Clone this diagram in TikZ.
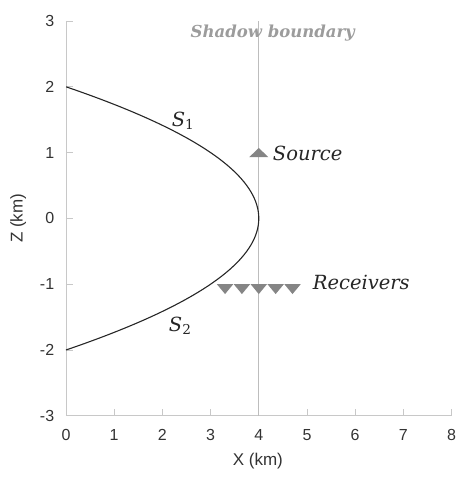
\documentclass[tikz,border=0pt]{standalone}
\usepackage{fontspec}
\setmainfont{Liberation Sans}
\newfontfamily\labelfont{DejaVu Serif}
\usetikzlibrary{positioning}
\definecolor{axisgray}{HTML}{C8C8C8}
\definecolor{boundgray}{HTML}{BDBDBD}
\definecolor{markgray}{HTML}{858585}
\definecolor{titlegray}{HTML}{9C9C9C}

\begin{document}
\begin{tikzpicture}[x=48.2pt, y=65.8pt,
  axis/.style={axisgray, line width=0.9pt},
  tick/.style={axisgray, line width=0.9pt},
  ticklabel/.style={font=\fontsize{16}{16}\selectfont, text=black!80, inner sep=1pt},
  axislabel/.style={font=\fontsize{17}{17}\selectfont, text=black!80},
  curvelabel/.style={font=\labelfont\itshape\fontsize{19.5}{19.5}\selectfont, text=black!85},
  title/.style={font=\labelfont\bfseries\itshape\fontsize{16.5}{16.5}\selectfont, text=titlegray},
]
\useasboundingbox (-1.369,-3.991) rectangle (8.195,3.319);

% axes
\draw[axis] (0,3) -- (0,-3) -- (8,-3);
\foreach \x in {0,...,8} {
  \draw[tick] (\x,-3) -- ++(0,0.1);
  \node[ticklabel] (xt\x) at (\x,-3.29) {\x};
}
\foreach \z in {-3,...,3} {
  \draw[tick] (0,\z) -- ++(0.15,0);
  \node[ticklabel, anchor=east] (zt\z) at (-0.22,\z) {\z};
}
\node[axislabel] (xlab) at (3.98,-3.69) {X (km)};
\node[axislabel, rotate=90] (zlab) at (-0.99,0) {Z (km)};

% shadow boundary
\draw[boundgray, line width=0.9pt] (4,-3) -- (4,3);
\node[title] (shadow) at (4.29,2.82) {Shadow boundary};

% interface
\draw[black!85, line width=1.1pt, domain=-2:2, samples=81, smooth]
  plot ({4-\x*\x},\x);
\node[curvelabel] (s1) at (2.43,1.49) {S\textsubscript{\upshape 1}};
\node[curvelabel] (s2) at (2.37,-1.63) {S\textsubscript{\upshape 2}};

% source and receivers
\fill[markgray] (3.8,0.93) -- (4.2,0.93) -- (4,1.07) -- cycle;
\node[curvelabel, anchor=west] (src) at (4.22,0.99) {Source};
\foreach \x in {3.3,3.65,4.0,4.35,4.7}
  \fill[markgray] (\x-0.17,-1) -- (\x+0.17,-1) -- (\x,-1.15) -- cycle;
\node[curvelabel, anchor=west] (rec) at (5.05,-0.98) {Receivers};

\end{tikzpicture}
\end{document}
